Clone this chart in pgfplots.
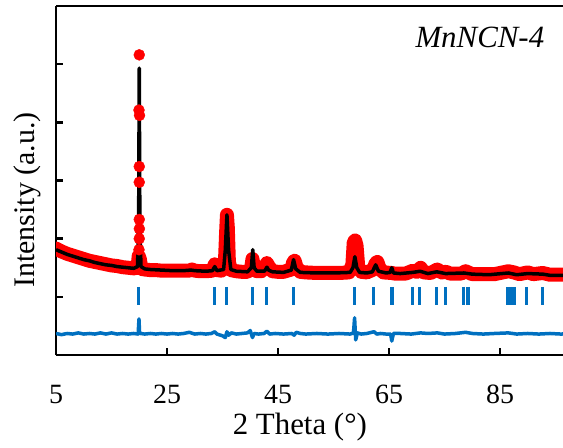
\documentclass[border=0pt]{standalone}
\usepackage{fontspec}
\setmainfont{Liberation Serif}
\usepackage{pgfplots}
\pgfplotsset{compat=1.18}
\definecolor{xblue}{RGB}{0,112,192}
\definecolor{xred}{RGB}{255,0,0}
\begin{document}
\begin{tikzpicture}
\begin{axis}[
  at={(0,0)}, anchor=south west,
  scale only axis, width=507bp, height=349bp,
  xmin=5, xmax=96.35, ymin=0, ymax=6,
  axis x line*=box, axis y line*=left,
  axis line style={line width=2.5bp, -},
  xtick={5,25,45,65,85}, ytick={1,2,3,4,5}, yticklabels={},
  xtick pos=left, ytick pos=left,
  tick align=inside, major tick length=7bp,
  tick style={line width=2.5bp, black},
  /pgf/number format/assume math mode=true,
  xticklabel style={font=\fontsize{28}{30}\selectfont, anchor=base, yshift=-48bp},
  xlabel={2 Theta (°)},
  xlabel style={at={(axis description cs:0.481,0)}, anchor=base, yshift=-79bp, font=\fontsize{31}{34}\selectfont},
  ylabel={Intensity (a.u.)},
  ylabel style={at={(axis description cs:-0.057,0.444)}, anchor=center, font=\fontsize{30}{32}\selectfont},
]
% observed (band)
\addplot[xred, line width=14bp, line cap=round, line join=round] coordinates {
(5,1.83)(6,1.78)(7,1.74)(8,1.71)(9,1.68)(10,1.65)(11,1.62)(12,1.60)(13,1.58)(14,1.56)(15,1.54)(16,1.53)(17,1.51)(18,1.50)(19,1.49)(19.7,1.50)(19.9,1.70)(20.1,1.65)(20.4,1.48)
(21,1.47)(22,1.46)(23,1.46)(24,1.45)(25,1.45)(26,1.45)(27,1.45)(28,1.45)(29,1.45)(29.5,1.47)(30,1.45)(31,1.44)(32,1.44)(33.2,1.45)(33.6,1.56)(34.0,1.46)(34.8,1.45)
(35.4,1.5)(35.65,2.1)(35.8,2.41)(35.95,2.2)(36.15,1.6)(36.5,1.46)(37.5,1.44)(38.5,1.43)(39.5,1.43)(40.15,1.48)(40.4,1.65)(40.65,1.5)(41.2,1.44)(42.0,1.44)(42.7,1.52)
(43.0,1.58)(43.35,1.52)(44,1.44)(45,1.43)(46,1.43)(47.4,1.47)(47.75,1.60)(48.0,1.62)(48.3,1.52)(49,1.43)(50,1.42)(52,1.41)(54,1.41)(56,1.41)(57.8,1.42)
(58.4,1.55)(58.65,1.94)(58.9,1.97)(59.15,1.88)(59.45,1.52)(60,1.43)(61,1.42)(62.2,1.47)(62.6,1.58)(62.9,1.60)(63.3,1.49)(64,1.42)(65.5,1.41)(66,1.40)(68,1.40)
(69.3,1.45)(70.0,1.43)(70.7,1.50)(71.3,1.42)(72.5,1.41)(73.7,1.47)(74.5,1.42)(75.3,1.43)(76,1.40)(78,1.40)(78.8,1.44)(80,1.39)(82,1.39)(84,1.39)(86.5,1.44)
(87.5,1.42)(88.5,1.39)(90,1.42)(91,1.39)(92.7,1.41)(94,1.38)(96,1.38)(98,1.38)
};
% observed (isolated points of the sharp peak)
\addplot[only marks, mark=*, mark size=5.5bp, color=xred] coordinates {
(20.0,5.16)(19.95,4.21)(20.05,4.12)(20.0,3.24)(20.0,2.97)(20.0,2.33)(20.02,2.17)(20.0,2.0)(19.95,1.81)
};
% calculated
\addplot[black, line width=3.5bp, line join=round] coordinates {
(5,1.81)(6,1.77)(7,1.73)(8,1.70)(9,1.67)(10,1.64)(11,1.62)(12,1.59)(13,1.57)(14,1.55)(15,1.54)(16,1.52)(17,1.51)(18,1.50)(19,1.49)(19.7,1.52)(19.9,2.5)(20.0,4.93)
(20.1,2.5)(20.3,1.52)(21,1.48)(22,1.47)(24,1.46)(26,1.45)(28,1.45)(29.3,1.46)(30,1.45)(32,1.44)(33.2,1.45)(33.6,1.52)(34.0,1.45)(35.2,1.47)(35.5,1.8)(35.8,2.41)
(36.1,1.8)(36.5,1.47)(37.5,1.44)(39.5,1.43)(40.2,1.5)(40.45,1.81)(40.7,1.5)(41.2,1.44)(42.5,1.44)(42.7,1.46)(43.0,1.51)(43.3,1.46)(44,1.43)(46,1.42)(47.4,1.46)
(47.8,1.64)(48.2,1.48)(49,1.42)(52,1.41)(55,1.41)(58,1.42)(58.5,1.5)(58.85,1.69)(59.2,1.5)(59.7,1.42)(61,1.41)(62.0,1.43)(62.6,1.55)(63.1,1.44)(64.5,1.41)
(65.2,1.42)(65.5,1.50)(65.8,1.41)(67,1.40)(69.3,1.42)(70.6,1.44)(72,1.40)(73.6,1.43)(75.2,1.40)(78.5,1.41)(80,1.39)(83,1.38)(86.5,1.41)(88,1.38)(90,1.40)
(92.7,1.39)(94,1.37)(98,1.37)
};
% Bragg positions
\addplot[only marks, mark=|, mark size=9bp, color=xblue, mark options={line width=3.5bp}] coordinates {
(19.9,1.015)(33.6,1.015)(35.7,1.015)(40.4,1.015)(42.9,1.015)(47.8,1.015)(58.8,1.015)(62.2,1.015)(65.5,1.015)(69.2,1.015)(70.5,1.015)(73.6,1.015)(75.2,1.015)
(78.4,1.015)(79.2,1.015)(86.4,1.015)(86.9,1.015)(87.5,1.015)(89.8,1.015)(92.7,1.015)(96.4,1.015)
};
% difference
\addplot[xblue, line width=3.5bp, line join=round] coordinates {
(5,0.37)(6,0.35)(7,0.37)(8,0.36)(9,0.38)(10,0.36)(11,0.37)(12,0.36)(13,0.38)(14,0.36)(15,0.38)(16,0.36)(17,0.37)(18,0.36)(19,0.37)(19.8,0.36)(19.95,0.62)
(20.05,0.40)(20.2,0.37)(21,0.36)(22,0.37)(23,0.36)(24,0.37)(25,0.36)(26,0.37)(27,0.36)(28,0.37)(29,0.39)(30,0.36)(31,0.37)(32,0.36)(33,0.37)(33.6,0.40)
(34,0.36)(35.0,0.33)(35.5,0.30)(35.8,0.40)(36.1,0.34)(36.6,0.38)(37.5,0.36)(38.5,0.37)(39.5,0.38)(40,0.42)(40.4,0.30)(40.7,0.37)(41.5,0.36)(42.5,0.37)
(43,0.41)(43.5,0.36)(44.5,0.37)(46,0.36)(47.5,0.37)(47.9,0.34)(48.3,0.39)(49,0.37)(50,0.36)(52,0.37)(54,0.36)(56,0.37)(58,0.36)(58.6,0.38)(58.8,0.64)
(59.0,0.26)(59.3,0.38)(60,0.36)(61,0.37)(62.3,0.40)(62.8,0.36)(63.5,0.37)(64.5,0.36)(65.3,0.36)(65.5,0.24)(65.8,0.37)(67,0.37)(69,0.36)(70.7,0.38)(72,0.37)
(73.7,0.38)(75,0.36)(77,0.37)(78.8,0.39)(80,0.37)(82,0.36)(84,0.37)(86.5,0.38)(88,0.36)(90,0.37)(92,0.36)(94,0.37)(96,0.36)(98,0.37)
};
\node[anchor=base east, font=\itshape\fontsize{31}{34}\selectfont] at (axis cs:93.6,5.29) {MnNCN-4};
\end{axis}
\pgfresetboundingbox
\path[use as bounding box] (-56bp,-93bp) rectangle (507bp,355bp);
\end{tikzpicture}
\end{document}
